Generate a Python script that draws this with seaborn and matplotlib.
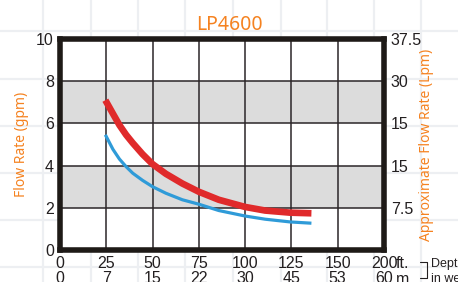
import matplotlib.pyplot as plt
import seaborn as sns
import pandas as pd

# pump curves, depth in feet vs flow in gpm
depth_ft = [24.5, 28.6, 32.1, 35.7, 39.3, 44.6, 50, 57.2, 66.1, 75, 85.8, 100, 110.8, 124.3, 135.8]
red_gpm = [7.1, 6.46, 5.92, 5.46, 5.07, 4.54, 4.07, 3.61, 3.15, 2.76, 2.38, 2.04, 1.87, 1.77, 1.74]
blue_gpm = [5.46, 4.77, 4.31, 3.95, 3.64, 3.30, 3.0, 2.69, 2.38, 2.17, 1.87, 1.61, 1.46, 1.33, 1.27]

x_ticks = [0, 25, 50, 75, 100, 125, 150, 175]
ft_labels = ["0", "25", "50", "75", "100", "125", "150", "200"]
m_labels = ["0", "7", "15", "22", "30", "45", "53", "60"]
gpm_ticks = [0, 2, 4, 6, 8, 10]
lpm_ticks = [2, 4, 6, 8, 10]
lpm_labels = ["7.5", "15", "15", "30", "37.5"]
bands = [(2, 4), (6, 8)]

ORANGE = "#f58220"
DARK = "#231f20"

sns.set_style("white")
plt.rcParams["font.family"] = ["Liberation Sans", "DejaVu Sans"]

fig = plt.figure(figsize=(4.58, 2.82), dpi=100)

# faint page grid behind everything
bg = fig.add_axes([0, 0, 1, 1], zorder=-5)
bg.set_xlim(0, 458)
bg.set_ylim(282, 0)
for gx in [43, 91, 138, 185, 233, 281, 327, 374, 421]:
    bg.axvline(gx, color="#edeff2", lw=1.6)
for gy in [31, 79, 126, 173, 220, 267]:
    bg.axhline(gy, color="#edeff2", lw=1.6)
bg.axis("off")

ax = fig.add_axes([60 / 458, 1 - 250 / 282, 324 / 458, 211 / 282])
ax.set_facecolor("white")
for lo, hi in bands:
    ax.axhspan(lo, hi, color="#dcdcdc", zorder=0.1, lw=0)

df = pd.DataFrame({"depth": depth_ft * 2,
                   "gpm": red_gpm + blue_gpm,
                   "curve": ["red"] * len(depth_ft) + ["blue"] * len(depth_ft)})
sns.lineplot(data=df[df.curve == "blue"], x="depth", y="gpm", color="#2f9bd8",
             lw=2.3, ax=ax, zorder=3, solid_capstyle="butt", solid_joinstyle="round")
sns.lineplot(data=df[df.curve == "red"], x="depth", y="gpm", color="#e02a2b",
             lw=4.8, ax=ax, zorder=4, solid_capstyle="butt", solid_joinstyle="round")

ax.set_xlim(0, 175)
ax.set_ylim(0, 10)
ax.set_xticks(x_ticks)
ax.set_xticklabels([f"{a}\n{b}" for a, b in zip(ft_labels, m_labels)],
                   linespacing=0.95)
ax.set_yticks(gpm_ticks)
ax.set_axisbelow(True)
ax.grid(True, color="#2b2628", lw=1.1)
ax.tick_params(axis="both", length=0, labelsize=11.5, colors=DARK)
ax.tick_params(axis="x", pad=4.5)
ax.tick_params(axis="y", pad=4.5)
for s in ax.spines.values():
    s.set_visible(True)
    s.set_linewidth(4)
    s.set_color("#1e1a17")
    s.set_zorder(6)
ax.set_xlabel("")
ax.set_ylabel("Flow Rate (gpm)", color=ORANGE, fontsize=10, family="Noto Sans")
ax.yaxis.set_label_coords(-0.097, 0.5)
ax.set_title("LP4600", color=ORANGE, fontsize=14, family="Noto Sans",
             x=(229 - 60) / 324, pad=6.5)

ax2 = ax.twinx()
ax2.set_ylim(0, 10)
ax2.set_yticks(lpm_ticks)
ax2.set_yticklabels(lpm_labels)
ax2.tick_params(axis="y", length=0, labelsize=11.5, colors=DARK, pad=5)
for s in ax2.spines.values():
    s.set_visible(False)
ax2.set_ylabel("Approximate Flow Rate (Lpm)", color=ORANGE, fontsize=10,
               family="Noto Sans")
ax2.yaxis.set_label_coords(1.108, 0.5)

# units after the last depth tick and the "Depth in well" note
bg.text(396, 263, "ft.", fontsize=11.5, color=DARK, va="center", ha="left")
bg.text(396, 279, "m", fontsize=11.5, color=DARK, va="center", ha="left")
bg.plot([420, 426.5, 426.5, 420], [262, 262, 278, 278], color=DARK, lw=0.8)
bg.text(431, 264, "Depth", fontsize=9, color=DARK, va="center", ha="left")
bg.text(431, 279, "in well", fontsize=9, color=DARK, va="center", ha="left")

fig.savefig("out.png", dpi=100)
